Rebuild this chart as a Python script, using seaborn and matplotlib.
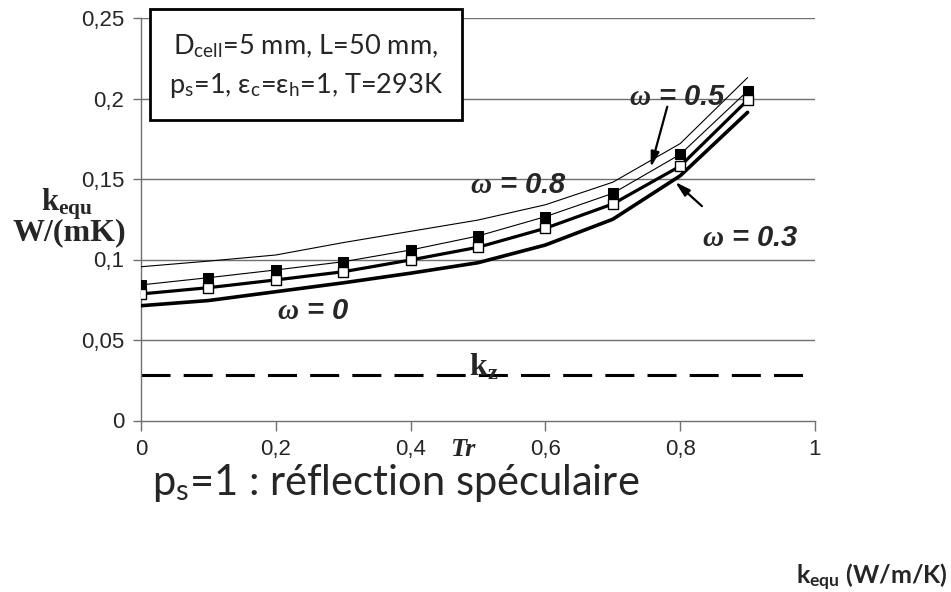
import matplotlib
matplotlib.use("Agg")
import matplotlib.pyplot as plt
import seaborn as sns
import pandas as pd

# Transmissivity Tr and equivalent conductivity (W/(mK)) for each albedo
tr = [0.0, 0.1, 0.2, 0.3, 0.4, 0.5, 0.6, 0.7, 0.8, 0.9]
k_w08 = [0.0955, 0.0990, 0.1028, 0.1105, 0.1175, 0.1245, 0.1340, 0.1480, 0.1720, 0.2130]
k_w05 = [0.0842, 0.0887, 0.0935, 0.0986, 0.1059, 0.1146, 0.1266, 0.1411, 0.1653, 0.2047]
k_w03 = [0.0786, 0.0825, 0.0873, 0.0924, 0.0997, 0.1076, 0.1194, 0.1345, 0.1580, 0.1990]
k_w0 = [0.0713, 0.0745, 0.0800, 0.0855, 0.0915, 0.0980, 0.1090, 0.1250, 0.1520, 0.1914]
k_z = 0.028

x_ticks = [0, 0.2, 0.4, 0.6, 0.8, 1.0]
x_tick_labels = ["0", "0,2", "0,4", "0,6", "0,8", "1"]
y_ticks = [0, 0.05, 0.1, 0.15, 0.2, 0.25]
y_tick_labels = ["0", "0,05", "0,1", "0,15", "0,2", "0,25"]

sns.set_style("white")
plt.rcParams["font.family"] = ["Liberation Sans", "DejaVu Sans"]
plt.rcParams["mathtext.fontset"] = "custom"
plt.rcParams["mathtext.it"] = "Liberation Serif:italic:bold"
plt.rcParams["mathtext.rm"] = "Liberation Sans"

W, H = 951, 592
fig = plt.figure(figsize=(W / 100, H / 100), dpi=100)
ax = fig.add_axes([141 / W, 1 - 420.5 / H, (815 - 141) / W, (420.5 - 18) / H])

df = pd.DataFrame({"Tr": tr, "w08": k_w08, "w05": k_w05, "w03": k_w03, "w0": k_w0})

# grid lines behind the curves
for yv in y_ticks[1:]:
    ax.axhline(yv, color="#707070", lw=1.0, zorder=0)

sns.lineplot(data=df, x="Tr", y="w08", ax=ax, color="black", lw=0.8, zorder=3)
sns.lineplot(data=df, x="Tr", y="w05", ax=ax, color="black", lw=0.8,
             marker="s", markersize=6.5, markerfacecolor="black",
             markeredgecolor="black", zorder=4)
sns.lineplot(data=df, x="Tr", y="w03", ax=ax, color="black", lw=2.3,
             marker="s", markersize=7.5, markerfacecolor="white",
             markeredgecolor="black", markeredgewidth=1.0, zorder=5)
sns.lineplot(data=df, x="Tr", y="w0", ax=ax, color="black", lw=2.6, zorder=3)

ax.axhline(k_z, color="black", lw=2.2, dashes=(9.5, 4.3), zorder=2)

ax.set_xlim(0, 1)
ax.set_ylim(0, 0.25)
ax.set_xticks(x_ticks)
ax.set_xticklabels(x_tick_labels)
ax.set_yticks(y_ticks)
ax.set_yticklabels(y_tick_labels)
ax.set_xlabel("")
ax.set_ylabel("")
ax.tick_params(axis="x", direction="out", length=7, width=1, color="#707070",
               pad=6, labelsize=16, bottom=True)
ax.tick_params(axis="y", direction="out", length=6, width=1, color="#707070",
               pad=6, labelsize=16, left=True)
for side in ("top", "right"):
    ax.spines[side].set_visible(False)
for side in ("left", "bottom"):
    ax.spines[side].set_color("#707070")
    ax.spines[side].set_linewidth(1.0)

# curve labels: serif omega followed by sans value
lab_kw = dict(fontsize=21, fontweight="bold", style="italic", ha="center",
              va="center", family="Liberation Sans", zorder=6)
ax.text((678 - 141) / 674, (420.5 - 97) / 1610, r"$\mathit{ω}$ = 0.5", **lab_kw)
ax.text((518 - 141) / 674, (420.5 - 185) / 1610, r"$\mathit{ω}$ = 0.8", **lab_kw)
ax.text((750 - 141) / 674, (420.5 - 238) / 1610, r"$\mathit{ω}$ = 0.3", **lab_kw)
ax.text((313 - 141) / 674, (420.5 - 311) / 1610, r"$\mathit{ω}$ = 0", **lab_kw)

arrow_kw = dict(arrowstyle="-|>,head_length=0.9,head_width=0.25", color="black", lw=1.6)
ax.annotate("", xy=((650 - 141) / 674, (420.5 - 170) / 1610),
            xytext=((668 - 141) / 674, (420.5 - 104) / 1610), arrowprops=arrow_kw, zorder=6)
ax.annotate("", xy=((673 - 141) / 674, (420.5 - 180) / 1610),
            xytext=((704 - 141) / 674, (420.5 - 208) / 1610), arrowprops=arrow_kw, zorder=6)

ax.text((484 - 141) / 674, k_z, r"k$_{\mathregular{z}}$", family="Liberation Serif",
        fontweight="bold", fontsize=23, ha="center", va="baseline", zorder=6)

# parameter box
fig.text(306 / W, 1 - 66 / H,
         "D$_{\\mathregular{cell}}$=5 mm, L=50 mm,\n"
         "p$_{\\mathregular{s}}$=1, ε$_{\\mathregular{c}}$=ε$_{\\mathregular{h}}$=1, T=293K",
         family=["Lato", "DejaVu Sans"], fontsize=19.5, ha="center", va="center",
         linespacing=1.5, zorder=10)
box = plt.Rectangle((150 / W, 1 - 120 / H), (462 - 150) / W, (120 - 9) / H,
                    transform=fig.transFigure, facecolor="white", edgecolor="black",
                    lw=2.0, zorder=9)
fig.patches.append(box)

# axis titles
fig.text(67 / W, 1 - 204 / H, r"k$_{\mathregular{equ}}$", family="Liberation Serif",
         fontweight="bold", fontsize=22, ha="center", va="center")
fig.text(69 / W, 1 - 233 / H, "W/(mK)", family="Liberation Serif",
         fontweight="bold", fontsize=23, ha="center", va="center")
fig.text(463 / W, 1 - 449 / H, "Tr", family="Liberation Serif", fontweight="bold",
         style="italic", fontsize=19, ha="center", va="center")

fig.text(152 / W, 1 - 495 / H, r"p$_{\mathregular{s}}$=1 : réflection spéculaire",
         family=["Lato", "DejaVu Sans"], fontsize=30, ha="left", va="baseline")
fig.text(948 / W, 1 - 577 / H, r"k$_{\mathregular{equ}}$ (W/m/K)",
         family=["Lato", "DejaVu Sans"], fontweight="bold", fontsize=18,
         ha="right", va="center")

fig.savefig("out.png", dpi=100)
